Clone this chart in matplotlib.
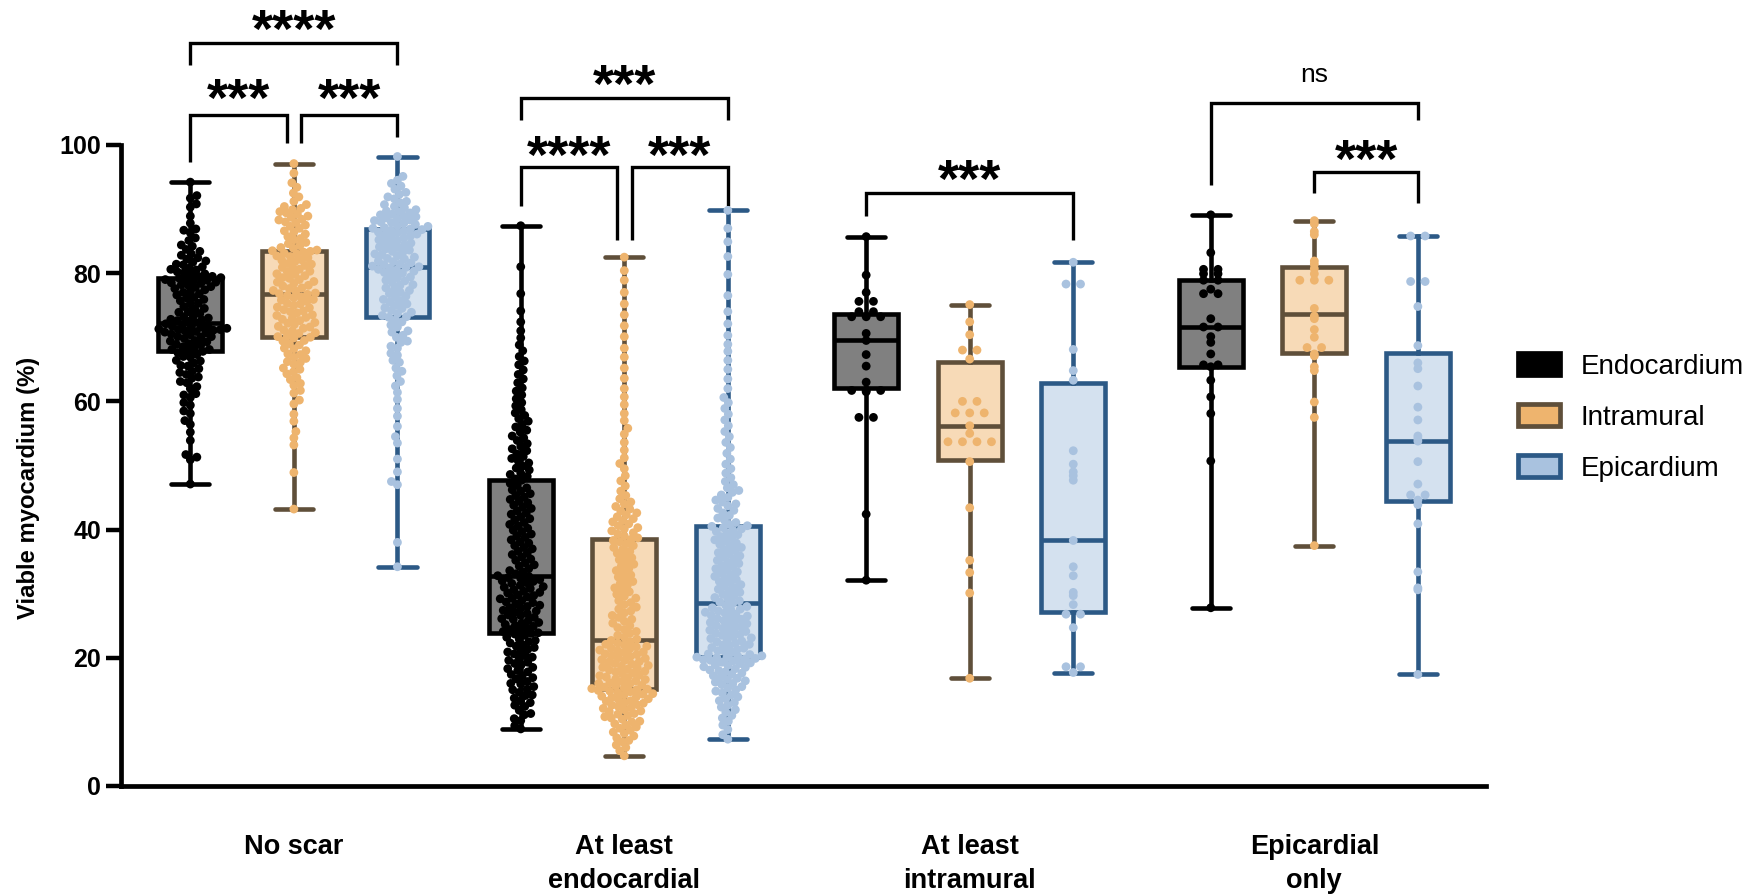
import numpy as np
import matplotlib
matplotlib.use("Agg")
import matplotlib.pyplot as plt
import matplotlib.colors as mcolors
import matplotlib.transforms as mtransforms
from matplotlib.patches import Patch

plt.rcParams['font.family'] = ['Liberation Sans', 'DejaVu Sans']

groups = ["No scar", "At least\nendocardial", "At least\nintramural", "Epicardial\nonly"]
layers = ["Endocardium", "Intramural", "Epicardium"]

# ---- viable myocardium (%) per segment, one list per scar group -------------
endo_vals = [
    [47.1, 50.9, 51.3, 51.7, 53.9, 55.2, 56.4, 57.0, 58.1, 58.5, 59.4, 59.8, 60.6, 61.0, 61.2,
     62.0, 62.3, 62.9, 63.1, 63.6, 63.8, 64.2, 64.5, 64.7, 65.1, 65.5, 65.6, 66.0, 66.3, 66.4,
     66.9, 67.0, 67.3, 67.6, 67.8, 67.9, 68.1, 68.1, 68.4, 68.5, 68.8, 68.9, 69.0, 69.3, 69.4,
     69.5, 69.8, 70.0, 70.1, 70.1, 70.4, 70.5, 70.7, 70.9, 71.0, 71.2, 71.2, 71.4, 71.5, 71.7,
     70.8, 71.1, 71.3, 71.6, 71.8, 72.0, 72.1, 72.3, 72.6, 73.0, 72.5, 72.7, 72.8, 73.2, 73.3,
     73.7, 73.9, 74.0, 74.4, 74.5, 74.8, 75.2, 75.3, 75.7, 75.9, 76.1, 76.2, 76.6, 76.8, 77.0,
     77.1, 77.4, 77.6, 77.8, 77.9, 78.1, 78.2, 78.4, 78.5, 78.6, 78.8, 78.9, 79.0, 79.1, 79.2,
     79.3, 79.5, 79.5, 79.8, 79.9, 80.1, 80.2, 80.5, 80.6, 80.8, 81.0, 81.3, 81.4, 81.7, 81.9,
     82.2, 82.4, 82.8, 83.0, 83.4, 83.7, 84.2, 84.4, 85.1, 85.5, 86.3, 86.7, 86.9, 87.8, 88.9,
     90.3, 90.8, 91.7, 92.1, 94.2],
    [8.9, 9.4, 10.2, 10.5, 11.1, 11.3, 11.8, 12.4, 12.6, 13.0, 13.3, 13.7, 14.1, 14.2, 14.6,
     15.0, 15.1, 15.5, 15.9, 16.0, 16.3, 16.7, 16.9, 17.2, 17.4, 17.8, 18.0, 18.3, 18.5, 18.9,
     19.1, 19.3, 19.6, 19.9, 20.1, 20.3, 20.6, 20.9, 21.0, 21.3, 21.6, 21.8, 22.0, 22.3, 22.5,
     22.7, 22.9, 23.2, 23.5, 23.7, 23.8, 23.9, 24.1, 24.3, 24.4, 24.6, 24.9, 25.0, 25.2, 25.4,
     25.5, 25.8, 26.0, 26.1, 26.3, 26.6, 26.7, 26.9, 27.1, 27.3, 27.4, 27.7, 27.8, 28.0, 28.2,
     28.4, 28.6, 28.7, 28.9, 29.2, 29.3, 29.5, 29.7, 29.8, 30.1, 30.2, 30.4, 30.6, 30.8, 31.0,
     31.1, 31.3, 31.6, 31.7, 31.9, 32.0, 32.2, 32.4, 32.5, 32.7, 32.8, 33.1, 33.4, 33.6, 33.9,
     34.3, 34.5, 34.8, 35.2, 35.4, 35.7, 36.1, 36.3, 36.6, 37.0, 37.2, 37.5, 37.9, 38.1, 38.4,
     38.8, 39.0, 39.3, 39.7, 39.9, 40.2, 40.6, 40.8, 41.1, 41.5, 41.7, 42.0, 42.4, 42.6, 42.9,
     43.3, 43.5, 43.8, 44.2, 44.4, 44.7, 45.1, 45.3, 45.6, 46.0, 46.2, 46.5, 46.9, 47.2, 47.7,
     47.9, 48.3, 48.6, 48.8, 49.3, 49.6, 49.9, 50.4, 50.7, 51.1, 51.4, 51.8, 52.3, 52.6, 53.0,
     53.4, 53.9, 54.3, 54.6, 55.2, 55.5, 56.0, 56.4, 56.9, 57.3, 57.8, 58.2, 58.7, 59.3, 59.8,
     60.4, 61.0, 61.6, 62.1, 62.9, 63.5, 64.2, 64.9, 65.7, 66.3, 67.0, 67.9, 68.8, 69.9, 71.0,
     72.4, 74.1, 76.8, 81.0, 87.4],
    [85.7, 79.7, 77.0, 75.6, 75.6, 74.0, 74.0, 73.2, 73.2, 73.2, 70.6, 69.5, 67.3, 65.5, 63.0,
     61.7, 61.7, 61.5, 61.7, 57.5, 57.5, 42.4, 32.1],
    [89.1, 83.2, 80.6, 80.6, 79.9, 79.9, 78.9, 78.9, 77.5, 76.8, 76.8, 72.9, 71.6, 71.6, 70.1,
     69.2, 67.4, 65.7, 65.7, 65.4, 63.3, 60.7, 58.1, 50.7, 27.8],
]
intra_vals = [
    [43.2, 48.9, 53.2, 54.3, 55.3, 56.9, 58.0, 59.6, 60.2, 61.3, 61.7, 62.5, 62.8, 63.4, 63.7,
     64.3, 64.6, 65.0, 65.2, 65.8, 66.1, 66.2, 66.7, 66.9, 67.3, 67.4, 67.9, 68.2, 68.3, 68.8,
     69.0, 69.4, 69.5, 69.9, 70.0, 70.1, 70.2, 70.6, 70.7, 71.0, 71.1, 71.4, 71.6, 71.7, 72.0,
     72.2, 72.3, 72.6, 72.8, 73.0, 73.1, 73.4, 73.5, 73.8, 74.0, 74.1, 74.3, 74.6, 74.7, 75.0,
     75.2, 75.3, 75.6, 75.8, 75.9, 76.2, 76.3, 76.5, 76.7, 76.8, 76.9, 77.2, 77.3, 77.6, 77.7,
     78.0, 78.1, 78.4, 78.6, 78.7, 79.0, 79.2, 79.3, 79.6, 79.8, 79.9, 80.2, 80.3, 80.6, 80.8,
     80.9, 81.2, 81.4, 81.5, 81.8, 82.0, 82.1, 82.4, 82.6, 82.7, 83.0, 83.1, 83.3, 83.4, 83.5,
     83.6, 83.9, 84.0, 84.3, 84.6, 84.8, 85.2, 85.4, 85.7, 86.1, 86.4, 86.6, 87.0, 87.3, 87.5,
     87.9, 88.0, 88.3, 88.4, 88.7, 88.9, 89.2, 89.4, 89.6, 89.9, 90.1, 90.4, 90.7, 91.2, 91.9,
     92.5, 93.4, 94.1, 95.6, 97.1],
    [4.7, 5.5, 6.0, 6.4, 6.9, 7.1, 7.5, 7.8, 8.2, 8.4, 8.7, 9.0, 9.2, 9.5, 9.7,
     10.0, 10.1, 10.4, 10.6, 10.8, 11.0, 11.2, 11.3, 11.6, 11.7, 11.9, 12.1, 12.2, 12.4, 12.6,
     12.7, 12.9, 13.0, 13.2, 13.3, 13.5, 13.6, 13.8, 13.9, 14.0, 14.2, 14.3, 14.4, 14.6, 14.7,
     14.8, 14.9, 15.0, 15.1, 15.2, 15.3, 15.4, 15.6, 15.7, 15.9, 16.0, 16.1, 16.3, 16.4, 16.6,
     16.7, 16.9, 17.0, 17.2, 17.3, 17.5, 17.6, 17.8, 17.9, 18.1, 18.2, 18.4, 18.5, 18.7, 18.8,
     19.0, 19.1, 19.3, 19.4, 19.6, 19.7, 19.9, 20.0, 20.2, 20.3, 20.5, 20.6, 20.8, 20.9, 21.1,
     21.2, 21.4, 21.5, 21.7, 21.8, 22.0, 22.1, 22.3, 22.5, 22.7, 22.9, 23.2, 23.5, 23.8, 24.1,
     24.4, 24.7, 25.0, 25.4, 25.7, 26.0, 26.3, 26.6, 27.0, 27.3, 27.6, 27.9, 28.3, 28.6, 28.9,
     29.3, 29.6, 29.9, 30.3, 30.6, 30.9, 31.3, 31.6, 31.9, 32.3, 32.6, 32.9, 33.3, 33.6, 33.9,
     34.3, 34.6, 34.9, 35.3, 35.6, 35.9, 36.3, 36.6, 36.9, 37.2, 37.5, 37.8, 38.1, 38.3, 38.5,
     38.7, 39.0, 39.3, 39.5, 39.8, 40.1, 40.3, 40.6, 40.9, 41.2, 41.4, 41.7, 42.0, 42.3, 42.6,
     42.9, 43.2, 43.6, 44.0, 44.3, 44.8, 45.3, 46.0, 46.8, 47.6, 48.4, 49.5, 50.3, 51.2, 52.4,
     53.6, 54.9, 55.8, 57.0, 58.1, 59.5, 60.7, 62.0, 63.6, 65.2, 66.9, 68.3, 70.1, 71.8, 73.5,
     75.2, 77.0, 78.9, 80.4, 82.5],
    [75.1, 72.4, 70.4, 68.0, 68.0, 66.6, 60.0, 60.0, 58.2, 58.2, 58.2, 56.2, 55.0, 53.7, 53.7,
     53.7, 53.7, 50.6, 43.4, 35.2, 33.3, 30.1, 16.8],
    [88.2, 87.7, 86.5, 86.0, 81.9, 81.4, 80.7, 79.9, 78.9, 78.9, 78.9, 74.5, 73.3, 72.9, 71.2,
     70.0, 68.4, 68.4, 67.1, 67.4, 65.4, 64.8, 59.9, 57.5, 37.5],
]
epi_vals = [
    [34.2, 38.0, 47.0, 47.5, 49.0, 51.0, 53.5, 54.5, 56.1, 57.7, 58.9, 60.3, 61.4, 62.4, 63.1,
     64.0, 64.7, 65.2, 66.1, 66.4, 67.2, 67.5, 68.3, 68.6, 69.2, 69.4, 70.0, 70.3, 70.8, 71.0,
     71.6, 71.9, 72.4, 72.7, 73.1, 73.2, 73.4, 73.7, 73.9, 74.2, 74.5, 74.6, 75.0, 75.2, 75.5,
     75.7, 75.9, 76.3, 76.4, 76.8, 77.0, 77.3, 77.5, 77.7, 78.1, 78.2, 78.5, 78.8, 78.9, 79.3,
     79.4, 79.7, 80.0, 80.1, 80.3, 80.5, 80.6, 80.8, 80.9, 81.0, 81.1, 81.3, 81.4, 81.6, 81.8,
     81.9, 82.2, 82.3, 82.5, 82.7, 82.9, 83.0, 83.3, 83.4, 83.6, 83.8, 84.0, 84.1, 84.4, 84.5,
     84.7, 84.9, 85.1, 85.2, 85.5, 85.6, 85.8, 86.0, 86.1, 86.3, 86.4, 86.6, 86.7, 86.8, 86.9,
     87.0, 87.1, 87.3, 87.4, 87.6, 87.8, 87.9, 88.0, 88.2, 88.3, 88.5, 88.6, 88.8, 88.9, 89.1,
     89.2, 89.4, 89.6, 89.7, 89.9, 90.2, 90.4, 90.7, 91.0, 91.2, 91.6, 91.9, 92.3, 92.6, 93.1,
     93.6, 94.0, 94.5, 95.1, 98.2],
    [7.3, 8.0, 8.8, 9.5, 10.1, 10.6, 11.0, 11.5, 11.9, 12.3, 12.6, 13.0, 13.3, 13.6, 13.9,
     14.2, 14.5, 14.8, 15.0, 15.3, 15.5, 15.8, 16.0, 16.2, 16.4, 16.6, 16.8, 17.0, 17.2, 17.4,
     17.6, 17.8, 18.0, 18.1, 18.3, 18.5, 18.6, 18.8, 18.9, 19.1, 19.2, 19.3, 19.5, 19.6, 19.7,
     19.8, 19.9, 20.0, 20.0, 20.1, 20.2, 20.3, 20.5, 20.6, 20.8, 21.0, 21.1, 21.3, 21.5, 21.6,
     21.8, 22.0, 22.1, 22.3, 22.5, 22.6, 22.8, 23.0, 23.1, 23.3, 23.5, 23.6, 23.8, 24.0, 24.1,
     24.3, 24.5, 24.6, 24.8, 25.0, 25.1, 25.3, 25.5, 25.6, 25.8, 26.0, 26.1, 26.3, 26.5, 26.6,
     26.8, 27.0, 27.1, 27.3, 27.5, 27.6, 27.8, 28.0, 28.2, 28.5, 28.7, 28.9, 29.2, 29.4, 29.7,
     29.9, 30.2, 30.4, 30.7, 30.9, 31.2, 31.4, 31.7, 31.9, 32.2, 32.4, 32.7, 32.9, 33.2, 33.4,
     33.7, 33.9, 34.2, 34.4, 34.7, 34.9, 35.2, 35.4, 35.7, 35.9, 36.2, 36.4, 36.7, 36.9, 37.2,
     37.4, 37.7, 37.9, 38.2, 38.4, 38.7, 38.9, 39.2, 39.4, 39.7, 39.9, 40.1, 40.3, 40.5, 40.6,
     40.8, 41.1, 41.5, 41.8, 42.2, 42.6, 43.0, 43.3, 43.7, 44.0, 44.3, 44.6, 45.0, 45.4, 45.8,
     46.1, 46.5, 47.0, 47.5, 48.1, 48.8, 49.5, 50.2, 51.0, 51.9, 52.8, 53.6, 54.5, 55.3, 56.2,
     57.1, 58.0, 58.9, 59.8, 60.6, 62.0, 63.5, 65.0, 66.4, 67.8, 68.9, 70.3, 72.1, 74.0, 76.5,
     79.8, 82.6, 84.9, 87.0, 89.8],
    [81.7, 78.3, 78.3, 68.1, 64.8, 63.3, 52.3, 50.2, 49.0, 48.4, 47.7, 38.3, 34.2, 32.8, 30.2,
     29.7, 28.3, 26.8, 26.8, 24.7, 18.6, 18.6, 17.7],
    [85.8, 85.8, 78.7, 78.7, 74.8, 68.7, 66.0, 65.1, 62.4, 59.1, 57.1, 54.6, 54.2, 53.8, 50.6,
     47.1, 45.4, 45.4, 44.6, 43.9, 40.9, 33.4, 30.9, 30.6, 17.4],
]

# box quartiles per group (whiskers run min to max of the data)
endo_q1 = [67.9, 23.8, 62.1, 65.4]
endo_med = [72.3, 32.7, 69.5, 71.6]
endo_q3 = [79.2, 47.7, 73.6, 78.9]
intra_q1 = [70.1, 15.2, 50.9, 67.6]
intra_med = [76.8, 22.7, 56.2, 73.7]
intra_q3 = [83.5, 38.5, 66.2, 80.9]
epi_q1 = [73.2, 20.1, 27.2, 44.5]
epi_med = [81.0, 28.5, 38.3, 53.8]
epi_q3 = [86.9, 40.6, 62.9, 67.5]

# significance brackets: (group, layer_a, layer_b, label)
comparisons = [
    (0, 0, 2, "****"), (0, 0, 1, "***"), (0, 1, 2, "***"),
    (1, 0, 2, "***"), (1, 0, 1, "****"), (1, 1, 2, "***"),
    (2, 0, 2, "***"),
    (3, 0, 2, "ns"), (3, 1, 2, "***"),
]
# bar height, left leg end, right leg end, label centre (y units)
bracket_y = [
    (115.9, 112.5, 112.5, 119.4), (104.7, 97.4, 100.3, 108.6), (104.7, 100.3, 101.3, 108.6),
    (107.4, 103.9, 103.9, 110.9), (96.5, 90.5, 85.1, 99.8), (96.5, 85.1, 90.5, 99.8),
    (92.5, 88.9, 85.1, 96.1),
    (106.5, 93.7, 103.9, 110.9), (95.8, 92.5, 90.9, 99.1),
]

point_colors = ["#000000", "#EEB46E", "#A9C2DF"]
edge_colors = ["#000000", "#5F4F3A", "#2C5986"]
fill_colors = [tuple(0.5 * np.array(mcolors.to_rgb(c)) + 0.5) for c in point_colors]

group_x = [1.665, 4.856, 8.192, 11.52]
layer_dx = [-1.0, 0.0, 1.0]
dense = [True, True, False, False]

fig = plt.figure(figsize=(17.63, 8.96), dpi=100)
ax = fig.add_axes([0.0689, 0.1228, 0.7741, 0.7154])
ax.set_xlim(0, 13.18)
ax.set_ylim(0, 100)

tr = ax.transData
px_per_x = tr.transform((1, 0))[0] - tr.transform((0, 0))[0]


def swarm_x(x0, vals, dmin):
    """Beeswarm layout (circle spacing dmin, in pixels), returned as data x."""
    vals = np.asarray(vals, float)
    ypx = tr.transform(np.column_stack([np.full(len(vals), x0), vals]))[:, 1]
    cand = np.arange(0, 80, 0.5)
    out = np.zeros(len(vals))
    px, py = [], []
    for k, i in enumerate(np.argsort(vals, kind="stable")):
        sgn = 1 if k % 2 == 0 else -1
        y = ypx[i]
        ax_ = np.array(px); ay_ = np.array(py)
        near = np.abs(ay_ - y) < dmin if len(ay_) else np.zeros(0, bool)
        nx, ny = ax_[near], ay_[near]
        chosen = 0.0
        for c in cand:
            ok = None
            for off in ((sgn * c, -sgn * c) if c > 0 else (0.0,)):
                if len(nx) == 0 or np.all((nx - off) ** 2 + (ny - y) ** 2 >= dmin ** 2):
                    ok = off
                    break
            if ok is not None:
                chosen = ok
                break
        px.append(chosen); py.append(y)
        out[i] = x0 + chosen / px_per_x
    return out


def row_x(x0, vals, step):
    """Equal values side by side, centred on the box (step in pixels)."""
    vals = np.asarray(vals, float)
    out = np.full(len(vals), x0)
    for v in np.unique(vals):
        idx = np.where(vals == v)[0]
        offs = (np.arange(len(idx)) - (len(idx) - 1) / 2) * step
        out[idx] = x0 + offs / px_per_x
    return out


all_vals = [endo_vals, intra_vals, epi_vals]
all_q1 = [endo_q1, intra_q1, epi_q1]
all_med = [endo_med, intra_med, epi_med]
all_q3 = [endo_q3, intra_q3, epi_q3]

lw = 3.3
for li in range(3):
    stats, pos = [], []
    for g in range(4):
        v = all_vals[li][g]
        stats.append(dict(q1=all_q1[li][g], med=all_med[li][g], q3=all_q3[li][g],
                          whislo=min(v), whishi=max(v), fliers=[]))
        pos.append(group_x[g] + layer_dx[li])
    ec = edge_colors[li]
    ax.bxp(stats, positions=pos, widths=0.615, capwidths=0.37, patch_artist=True,
           showfliers=False, manage_ticks=False, zorder=2,
           boxprops=dict(facecolor=fill_colors[li], edgecolor=ec, linewidth=lw),
           whiskerprops=dict(color=ec, linewidth=lw),
           capprops=dict(color=ec, linewidth=lw, solid_capstyle="round"),
           medianprops=dict(color=ec, linewidth=lw))
    for g in range(4):
        v = all_vals[li][g]
        xs = swarm_x(pos[g], v, 6.6) if dense[g] else row_x(pos[g], v, 14.5)
        ax.scatter(xs, v, s=40, color=point_colors[li], edgecolors="none", zorder=3,
                   clip_on=False)

# significance brackets
for (g, a, b, label), (ybar, ya, yb, yt) in zip(comparisons, bracket_y):
    xa = group_x[g] + layer_dx[a]
    xb = group_x[g] + layer_dx[b]
    if b - a == 1 and any(c[0] == g and c[1] == 0 and c[2] == 1 for c in comparisons) \
            and any(c[0] == g and c[1] == 1 and c[2] == 2 for c in comparisons):
        if a == 0:
            xb -= 0.07
        else:
            xa += 0.07
    ax.plot([xa, xa, xb, xb], [ya, ybar, ybar, yb], color="black", lw=2.4,
            clip_on=False, solid_joinstyle="miter", solid_capstyle="butt")
    if label == "ns":
        ax.annotate(label, ((xa + xb) / 2, yt), xytext=(0, -0.26 * 19),
                    textcoords="offset points", ha="center", va="baseline",
                    fontsize=19, annotation_clip=False)
    else:
        ax.annotate(label, ((xa + xb) / 2, yt), xytext=(0, -0.58 * 39 + 3.5),
                    textcoords="offset points", ha="center", va="baseline",
                    fontsize=39, fontweight="bold", annotation_clip=False)

# axes styling
for side in ("top", "right"):
    ax.spines[side].set_visible(False)
ax.spines["left"].set_linewidth(3.4)
ax.spines["bottom"].set_linewidth(3.4)
ax.spines["left"].set_bounds(0, 100)
ax.set_yticks([0, 20, 40, 60, 80, 100])
ax.set_xticks([])
ax.tick_params(axis="y", length=10.5, width=3.2, labelsize=18, pad=4)
for t in ax.get_yticklabels():
    t.set_fontweight("bold")

fig.text(0.016, 0.455, "Viable myocardium (%)", rotation=90, ha="center", va="center",
         fontsize=17.2, fontweight="bold")

trans = mtransforms.blended_transform_factory(ax.transData, ax.transAxes)
for g, name in enumerate(groups):
    ax.text(group_x[g], -0.075, name, transform=trans, ha="center", va="top",
            fontsize=19.5, fontweight="bold", linespacing=1.42)

handles = [Patch(facecolor=point_colors[i] if i else "#000000", edgecolor=edge_colors[i],
                 linewidth=3.4, label=layers[i]) for i in range(3)]
fig.legend(handles=handles, loc="center left", bbox_to_anchor=(0.861, 0.534),
           frameon=False, fontsize=20, handlelength=1.5, handleheight=0.85,
           labelspacing=0.88, handletextpad=0.75, borderpad=0, borderaxespad=0)

fig.savefig("out.png", dpi=100)
